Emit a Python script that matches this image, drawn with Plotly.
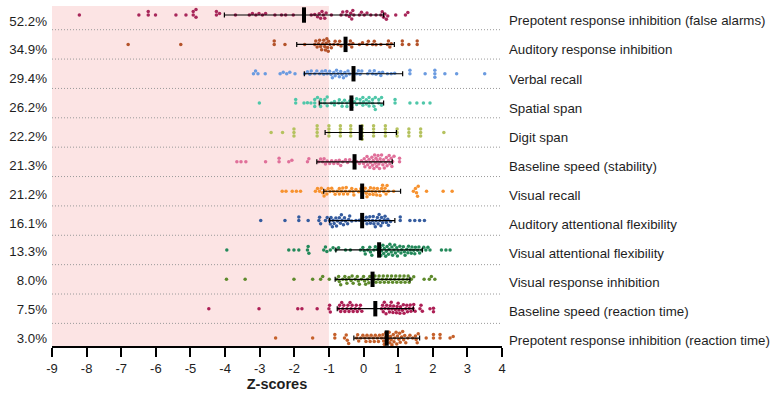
import numpy as np
import plotly.graph_objects as go

tasks = [
    "Prepotent response inhibition (false alarms)",
    "Auditory response inhibition",
    "Verbal recall",
    "Spatial span",
    "Digit span",
    "Baseline speed (stability)",
    "Visual recall",
    "Auditory attentional flexibility",
    "Visual attentional flexibility",
    "Visual response inhibition",
    "Baseline speed (reaction time)",
    "Prepotent response inhibition (reaction time)",
]
pct_labels = ["52.2%", "34.9%", "29.4%", "26.2%", "22.2%", "21.3%",
              "21.2%", "16.1%", "13.3%", "8.0%", "7.5%", "3.0%"]
colors = ["#a8275a", "#b4532a", "#6b9be0", "#4fc7a9", "#b5c25f", "#e0709a",
          "#f7922f", "#355c9f", "#23895a", "#5e8a2c", "#ad1f55", "#c5602a"]

means = [-1.72, -0.52, -0.29, -0.35, -0.08, -0.26, -0.04, -0.04, 0.45, 0.26, 0.34, 0.67]
sds = [2.30, 1.41, 1.42, 0.93, 1.03, 1.09, 1.11, 0.945, 1.25, 1.08, 1.10, 0.95]

impaired_cutoff = -1
x_ticks = list(range(-9, 5))

z_prepotent_fa = [-8.21, -6.49, -6.22, -6.22, -6.01, -5.42, -5.13, -4.92, -4.92, -4.84, -4.84,
                  -4.25, -4.25, -4.16, -3.70, -3.30, -3.21, -3.11, -3.02, -2.92, -2.83, -2.56,
                  -2.37, -2.25, -2.03, -1.51, -1.41, -1.33, -1.28, -1.24, -1.20, -1.16, -1.12,
                  -1.08, -0.93, -0.65, -0.60, -0.50, -0.48, -0.41, -0.37, -0.34, -0.31, -0.28,
                  -0.12, -0.06, 0.02, 0.10, 0.21, 0.36, 0.50, 0.54, 0.58, 0.62, 0.66, 0.70,
                  0.93, 1.21, 1.28]
z_auditory_ri = [-6.80, -5.28, -2.58, -2.58, -2.27, -1.70, -1.41, -1.38, -1.34, -1.30, -1.27,
                 -1.24, -1.21, -1.18, -1.15, -1.12, -1.10, -1.08, -1.06, -1.04, -1.02, -1.01,
                 -0.97, -0.93, -0.86, -0.82, -0.74, -0.69, -0.65, -0.41, -0.38, -0.34, -0.31,
                 -0.12, -0.03, 0.10, 0.14, 0.26, 0.31, 0.36, 0.50, 0.69, 0.72, 0.76, 0.80,
                 1.12, 1.12, 1.31, 1.55, 1.55]
z_verbal_recall = [-3.18, -3.12, -3.05, -2.84, -2.41, -2.32, -2.22, -2.13, -1.98, -1.70, -1.62,
                   -1.55, -1.51, -1.41, -1.35, -1.27, -1.20, -1.15, -1.10, -1.05, -0.98, -0.94,
                   -0.90, -0.86, -0.82, -0.78, -0.74, -0.70, -0.66, -0.62, -0.58, -0.54, -0.50,
                   -0.45, -0.40, -0.20, -0.15, -0.10, -0.05, 0.12, 0.18, 0.26, 0.31, 0.36, 0.45,
                   0.50, 0.55, 0.69, 0.80, 0.90, 1.34, 1.34, 1.78, 2.06, 2.06, 2.06, 2.35, 2.69,
                   3.50]
z_spatial_span = [-3.01, -1.96, -1.96, -1.72, -1.62, -1.52, -1.41, -1.41, -1.41, -1.33, -1.24,
                  -1.24, -1.24, -1.12, -1.12, -1.05, -1.05, -0.93, -0.84, -0.84, -0.72, -0.70,
                  -0.62, -0.62, -0.55, -0.48, -0.48, -0.40, -0.34, -0.34, -0.34, -0.26, -0.20,
                  -0.20, -0.10, -0.10, -0.02, -0.02, 0.00, 0.08, 0.08, 0.16, 0.16, 0.16, 0.26,
                  0.26, 0.30, 0.34, 0.34, 0.44, 0.44, 0.52, 0.52, 0.91, 0.91, 1.34, 1.54, 1.73,
                  1.92]
z_digit_span = ([-2.67] + [-2.34] + [-2.01] * 3 + [-1.34] * 4 + [-1.00] * 4 + [-0.67] * 4
                + [-0.37] * 4 + [-0.04] * 5 + [0.29] * 4 + [0.63] * 4 + [0.97] * 3
                + [1.31] * 3 + [1.65] * 3 + [2.32])
z_baseline_stab = [-3.66, -3.54, -3.40, -2.83, -2.44, -2.44, -2.16, -2.07, -1.62, -1.58, -1.30,
                   -1.24, -1.18, -1.14, -1.10, -1.05, -0.98, -0.92, -0.86, -0.80, -0.74, -0.70,
                   -0.66, -0.60, -0.52, -0.46, -0.40, -0.30, -0.20, -0.12, -0.06, 0.00, 0.02,
                   0.04, 0.08, 0.10, 0.12, 0.16, 0.18, 0.20, 0.24, 0.26, 0.28, 0.30, 0.32, 0.34,
                   0.36, 0.38, 0.40, 0.42, 0.44, 0.46, 0.48, 0.50, 0.52, 0.56, 0.58, 0.60, 0.64,
                   0.66, 0.68, 0.72, 0.74, 0.76, 0.80, 0.82, 0.84, 0.88, 1.04, 1.04]
z_visual_recall = [-2.35, -2.24, -2.06, -1.94, -1.82, -1.39, -1.33, -1.27, -1.22, -1.18, -1.14,
                   -1.10, -1.06, -1.02, -0.97, -0.92, -0.87, -0.82, -0.76, -0.70, -0.70, -0.64,
                   -0.60, -0.58, -0.52, -0.50, -0.46, -0.40, -0.34, -0.30, -0.28, -0.22, -0.14,
                   -0.08, 0.00, 0.05, 0.08, 0.10, 0.15, 0.18, 0.20, 0.25, 0.28, 0.30, 0.35, 0.38,
                   0.40, 0.46, 0.48, 0.52, 0.55, 0.58, 0.62, 0.65, 0.68, 0.72, 0.87, 1.44, 1.50,
                   1.53, 1.56, 1.58, 1.82, 2.30, 2.56]
z_auditory_af = [-2.97, -2.27, -1.87, -1.87, -1.60, -1.29, -1.27, -1.24, -1.10, -1.05, -0.98,
                 -0.96, -0.94, -0.90, -0.88, -0.85, -0.80, -0.78, -0.75, -0.70, -0.67, -0.64,
                 -0.62, -0.58, -0.55, -0.52, -0.46, -0.43, -0.40, -0.34, -0.22, -0.12, 0.05,
                 0.08, 0.10, 0.15, 0.18, 0.20, 0.26, 0.28, 0.30, 0.34, 0.36, 0.40, 0.42, 0.45,
                 0.47, 0.50, 0.52, 0.55, 0.60, 0.62, 0.66, 0.70, 0.72, 0.78, 1.06, 1.06, 1.34,
                 1.48, 1.62, 1.76]
z_visual_af = [-3.95, -2.16, -2.01, -1.87, -1.62, -1.60, -1.58, -1.15, -1.10, -1.06, -0.96,
               -0.88, -0.80, -0.72, -0.52, -0.38, -0.09, -0.02, 0.02, 0.05, 0.12, 0.18, 0.20,
               0.24, 0.30, 0.34, 0.40, 0.44, 0.48, 0.50, 0.52, 0.56, 0.58, 0.60, 0.64, 0.66,
               0.68, 0.72, 0.74, 0.76, 0.80, 0.82, 0.84, 0.88, 0.90, 0.92, 0.96, 0.98, 1.00,
               1.05, 1.08, 1.10, 1.15, 1.18, 1.20, 1.25, 1.28, 1.30, 1.35, 1.38, 1.40, 1.45,
               1.48, 1.50, 1.56, 1.60, 1.62, 1.68, 1.74, 1.80, 1.86, 1.92, 2.25, 2.38, 2.50]
z_visual_ri = [-3.96, -3.42, -2.01, -1.47, -1.24, -1.18, -0.99, -0.78, -0.72, -0.70, -0.66,
               -0.60, -0.54, -0.50, -0.48, -0.42, -0.36, -0.33, -0.30, -0.24, -0.18, -0.15,
               -0.12, -0.06, 0.00, 0.03, 0.06, 0.12, 0.15, 0.18, 0.30, 0.33, 0.36, 0.42, 0.45,
               0.48, 0.54, 0.57, 0.60, 0.66, 0.69, 0.72, 0.78, 0.81, 0.84, 0.90, 0.93, 0.96,
               1.02, 1.05, 1.08, 1.14, 1.17, 1.20, 1.26, 1.29, 1.32, 1.38, 1.45, 1.75, 1.90,
               1.96, 2.06]
z_baseline_rt = [-4.47, -3.02, -1.90, -1.78, -1.34, -1.00, -0.98, -0.96, -0.72, -0.69, -0.66,
                 -0.63, -0.60, -0.57, -0.54, -0.48, -0.45, -0.42, -0.39, -0.36, -0.33, -0.30,
                 -0.24, -0.21, -0.18, -0.12, -0.09, -0.05, 0.52, 0.55, 0.57, 0.60, 0.62, 0.65,
                 0.67, 0.72, 0.75, 0.77, 0.80, 0.82, 0.85, 0.87, 0.92, 0.95, 0.97, 1.00, 1.02,
                 1.05, 1.07, 1.12, 1.15, 1.17, 1.22, 1.25, 1.27, 1.32, 1.35, 1.37, 1.43, 1.45,
                 1.49, 1.63, 1.66, 1.70, 1.92, 2.02, 2.02]
z_prepotent_rt = [-2.54, -1.47, -0.83, -0.83, -0.55, -0.50, -0.47, -0.43, -0.20, -0.17, -0.14,
                  -0.08, -0.02, 0.04, 0.07, 0.10, 0.16, 0.19, 0.22, 0.28, 0.31, 0.34, 0.40,
                  0.43, 0.46, 0.52, 0.56, 0.58, 0.60, 0.62, 0.64, 0.66, 0.70, 0.72, 0.74, 0.76,
                  0.78, 0.80, 0.82, 0.86, 0.88, 0.90, 0.94, 0.96, 0.98, 1.02, 1.04, 1.06, 1.10,
                  1.13, 1.16, 1.19, 1.22, 1.28, 1.34, 1.42, 1.50, 1.52, 1.55, 1.58, 1.81, 2.02,
                  2.02, 2.21, 2.21, 2.50, 2.59]

rows = [z_prepotent_fa, z_auditory_ri, z_verbal_recall, z_spatial_span, z_digit_span,
        z_baseline_stab, z_visual_recall, z_auditory_af, z_visual_af, z_visual_ri,
        z_baseline_rt, z_prepotent_rt]

# ---- layout geometry (pixels) ----
W, H = 776, 397
ML, MR, MT, MB = 52, 272, 6, 51
PLOT_W = W - ML - MR
PLOT_H = H - MT - MB
X_RANGE = [x_ticks[0], x_ticks[-1]]
PX_X = PLOT_W / (X_RANGE[1] - X_RANGE[0])
Y_RANGE = [11.27, -0.307]
PX_Y = PLOT_H / (Y_RANGE[0] - Y_RANGE[1])
DOT = 3.5
MAXOFF = 6.8


def swarm(vals):
    vals = np.asarray(vals, dtype=float)
    order = np.argsort(vals, kind="stable")
    placed = []
    offs = np.zeros(len(vals))
    for idx in order:
        x = vals[idx] * PX_X
        neigh = [(px, py) for px, py in placed if abs(px - x) < DOT]
        cands = [0.0]
        for px, py in neigh:
            h = np.sqrt(max(DOT * DOT - (px - x) ** 2, 0.0))
            cands += [py + h, py - h]
        cands = sorted(cands, key=lambda c: (abs(c), c))
        chosen = None
        for c in cands:
            if abs(c) > MAXOFF:
                continue
            if all((px - x) ** 2 + (py - c) ** 2 >= DOT * DOT - 1e-6 for px, py in neigh):
                chosen = c
                break
        if chosen is None:
            grid = np.linspace(-MAXOFF, MAXOFF, 27)
            chosen = max(grid, key=lambda c: min((px - x) ** 2 + (py - c) ** 2 for px, py in neigh))
        placed.append((x, chosen))
        offs[idx] = chosen
    return offs / PX_Y


fig = go.Figure()

for i, vals in enumerate(rows):
    offs = swarm(vals)
    fig.add_trace(go.Scatter(
        x=vals, y=i + offs, mode="markers",
        marker=dict(size=DOT, color=colors[i], line=dict(width=0)),
        showlegend=False, hoverinfo="skip"))

rows_idx = list(range(len(tasks)))
fig.add_trace(go.Scatter(
    x=means, y=rows_idx, mode="markers",
    marker=dict(symbol="line-ns", size=11, line=dict(width=4, color="black"), color="black"),
    error_x=dict(type="data", array=sds, color="black", thickness=1.2, width=2.5),
    showlegend=False, hoverinfo="skip"))

# invisible helpers for label axes
fig.add_trace(go.Scatter(x=[None], y=[None], yaxis="y2", showlegend=False, hoverinfo="skip"))
fig.add_trace(go.Scatter(x=[None], y=[None], yaxis="y3", showlegend=False, hoverinfo="skip"))

shapes = [dict(type="rect", xref="x", yref="paper", x0=X_RANGE[0], x1=impaired_cutoff,
               y0=0, y1=1, fillcolor="#fce4e4", line=dict(width=0), layer="below")]
for k in range(len(tasks) - 1):
    shapes.append(dict(type="line", xref="paper", yref="y", x0=0, x1=1, y0=k + 0.5, y1=k + 0.5,
                       line=dict(color="#9a9a9a", width=1, dash="1px,2px"), layer="below"))

FONT = "Liberation Sans, Arial, sans-serif"
fig.update_layout(
    width=W, height=H,
    margin=dict(l=ML, r=MR, t=MT, b=MB, pad=0),
    paper_bgcolor="white", plot_bgcolor="white",
    font=dict(family=FONT, size=13, color="#1e1e1e"),
    shapes=shapes,
    xaxis=dict(range=X_RANGE, tickmode="array", tickvals=x_ticks,
               ticktext=[str(t) for t in x_ticks],
               ticks="outside", ticklen=9, tickwidth=2.2, tickcolor="black",
               showline=True, linewidth=2.2, linecolor="black",
               showgrid=False, zeroline=False, tickfont=dict(size=13),
               title=dict(text="<b>Z-scores</b>", font=dict(size=14.5), standoff=3)),
    yaxis=dict(range=Y_RANGE, showticklabels=False, showgrid=False, zeroline=False,
               showline=False, ticks=""),
    yaxis2=dict(overlaying="y", side="left", range=[11.27, -0.52], tickmode="array",
                tickvals=rows_idx, ticktext=pct_labels, ticks="", showgrid=False,
                zeroline=False, showline=False, tickfont=dict(size=13.3), ticklabelstandoff=4),
    yaxis3=dict(overlaying="y", side="right", range=[11.18, -0.505], tickmode="array",
                tickvals=rows_idx, ticktext=tasks, ticks="", showgrid=False,
                zeroline=False, showline=False, tickfont=dict(size=13.3), ticklabelstandoff=6),
)

fig.write_html("out.html")
